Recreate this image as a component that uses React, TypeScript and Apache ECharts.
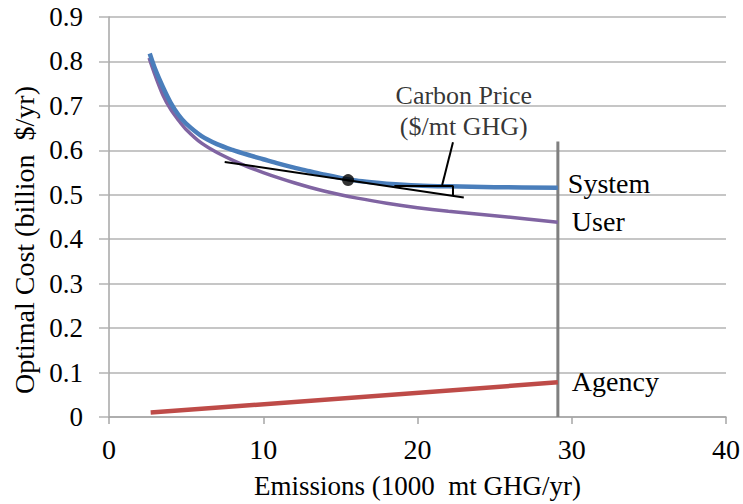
import React, { useEffect, useRef } from "react";
import * as echarts from "echarts";

const systemData: [number, number][] = [
  [2.64, 0.818], [3, 0.782], [3.5, 0.742], [4, 0.707], [4.5, 0.68], [5, 0.66],
  [6, 0.632], [7, 0.614], [8, 0.601], [9, 0.59], [10, 0.58], [11, 0.57],
  [12, 0.561], [13, 0.553], [14, 0.545], [15, 0.538], [16, 0.532], [17, 0.528],
  [18, 0.525], [20, 0.521], [22, 0.519], [25, 0.517], [29.1, 0.516],
];
const userData: [number, number][] = [
  [2.6, 0.808], [3, 0.768], [3.5, 0.724], [4, 0.692], [4.5, 0.668], [5, 0.647],
  [6, 0.616], [7, 0.595], [8, 0.578], [9, 0.563], [10, 0.55], [11, 0.538],
  [12, 0.527], [13, 0.517], [14, 0.508], [15, 0.5], [16, 0.493], [18, 0.481],
  [20, 0.471], [22, 0.463], [25, 0.453], [29.1, 0.438],
];
const agencyData: [number, number][] = [[2.7, 0.01], [29.1, 0.078]];
const limitLine: [number, number][] = [[29.1, 0], [29.1, 0.62]];
const tangentLine: [number, number][] = [[7.5, 0.574], [23.0, 0.494]];
const tangentPoint: [number, number][] = [[15.5, 0.533]];
const rightAngle: [number, number][] = [[18.5, 0.52], [22.3, 0.52], [22.3, 0.498]];
const leaderLine: [number, number][] = [[21.6, 0.522], [22.3, 0.618]];
const priceLabelPos: [number, number][] = [[23.0, 0.689]];
const xTicks = { min: 0, max: 40, interval: 10 };
const yTicks = { min: 0, max: 0.9, interval: 0.1 };
const xTitle = "Emissions (1000  mt GHG/yr)";
const yTitle = "Optimal Cost (billion  $/yr)";

const FONT = "'Liberation Serif', 'Times New Roman', serif";

export default function App() {
  const ref = useRef<HTMLDivElement>(null);
  useEffect(() => {
    if (!ref.current) return;
    const chart = echarts.init(ref.current, null, { renderer: "svg" });
    const endLabel = (text: string, dist: number, dy: number) => ({
      show: true,
      formatter: text,
      fontFamily: FONT,
      fontSize: 28,
      color: "#000",
      distance: dist,
      offset: [0, dy],
    });
    chart.setOption({
      animation: false,
      backgroundColor: "#fff",
      grid: { left: 109, right: 12, top: 17, bottom: 87, containLabel: false },
      graphic: [
        {
          type: "text",
          x: 24,
          y: 240,
          rotation: Math.PI / 2,
          style: {
            text: yTitle,
            fill: "#000",
            font: `28px ${FONT}`,
            textAlign: "center",
            textVerticalAlign: "middle",
          },
        },
      ],
      xAxis: {
        type: "value",
        ...xTicks,
        name: xTitle,
        nameLocation: "middle",
        nameGap: 55,
        nameTextStyle: { fontFamily: FONT, fontSize: 27, color: "#000" },
        axisLine: { show: true, lineStyle: { color: "#a6a6a6", width: 1.5 } },
        axisTick: { show: true, length: 7, lineStyle: { color: "#a6a6a6", width: 1.5 } },
        axisLabel: { fontFamily: FONT, fontSize: 28, color: "#000", margin: 18 },
        splitLine: { show: false },
      },
      yAxis: {
        type: "value",
        ...yTicks,
        axisLine: { show: true, lineStyle: { color: "#a6a6a6", width: 1.5 } },
        axisTick: { show: true, length: 10, lineStyle: { color: "#b3b3b3", width: 1.5 } },
        axisLabel: { fontFamily: FONT, fontSize: 27, color: "#000", margin: 26 },
        splitLine: { show: true, lineStyle: { color: "#b3b3b3", width: 1.5 } },
      },
      series: [
        {
          type: "line",
          name: "Limit",
          data: limitLine,
          symbol: "none",
          lineStyle: { color: "#808080", width: 3 },
          z: 1,
        },
        {
          type: "line",
          name: "User",
          data: userData,
          symbol: "none",
          smooth: 0.3,
          lineStyle: { color: "#8064a2", width: 3.5 },
          endLabel: endLabel("User", 14, -1),
          z: 2,
        },
        {
          type: "line",
          name: "System",
          data: systemData,
          symbol: "none",
          smooth: 0.3,
          lineStyle: { color: "#4a7ebb", width: 4.5 },
          endLabel: endLabel("System", 10, -4),
          z: 3,
        },
        {
          type: "line",
          name: "Agency",
          data: agencyData,
          symbol: "none",
          lineStyle: { color: "#be4b48", width: 4.5 },
          endLabel: endLabel("Agency", 14, -1),
          z: 3,
        },
        {
          type: "line",
          name: "Tangent",
          data: tangentLine,
          symbol: "none",
          lineStyle: { color: "#000", width: 2 },
          z: 4,
        },
        {
          type: "line",
          name: "RightAngle",
          data: rightAngle,
          symbol: "none",
          lineStyle: { color: "#000", width: 2 },
          z: 4,
        },
        {
          type: "line",
          name: "Leader",
          data: leaderLine,
          symbol: "none",
          lineStyle: { color: "#000", width: 2 },
          z: 4,
        },
        {
          type: "scatter",
          name: "Point",
          data: tangentPoint,
          symbol: "circle",
          symbolSize: 12,
          itemStyle: { color: "#000" },
          z: 5,
        },
        {
          type: "scatter",
          name: "PriceLabel",
          data: priceLabelPos,
          symbolSize: 0,
          silent: true,
          label: {
            show: true,
            position: "inside",
            formatter: "Carbon Price\n($/mt GHG)",
            fontFamily: FONT,
            fontSize: 26,
            lineHeight: 31,
            color: "#000",
            align: "center",
          },
          z: 5,
        },
      ],
    });
    return () => chart.dispose();
  }, []);
  return <div ref={ref} style={{ width: 743, height: 504, position: "absolute", left: 0, top: 0 }} />;
}
